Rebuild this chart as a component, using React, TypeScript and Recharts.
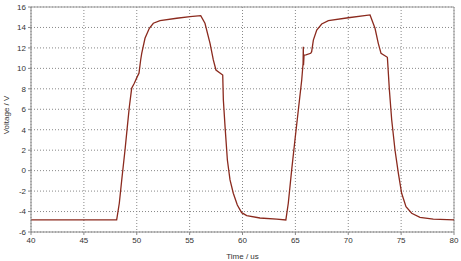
import React from 'react';
import { LineChart, Line, XAxis, YAxis, CartesianGrid, ReferenceLine, Label } from 'recharts';

const times = [40, 48.1, 48.35, 48.58, 48.89, 49.11, 49.3, 49.52, 49.77, 50.05, 50.21, 50.37, 50.47, 50.78, 51.19, 51.57, 52.2, 53.78, 55.04, 56.05, 56.45, 56.93, 57.24, 57.49, 58.13, 58.19, 58.35, 58.57, 58.82, 59.13, 59.51, 59.92, 60.4, 61.65, 63.23, 64.1, 64.33, 64.65, 64.96, 65.28, 65.6, 65.73, 65.75, 65.77, 65.82, 66.0, 66.45, 66.54, 66.7, 67.02, 67.49, 68.12, 70.0, 72.06, 72.53, 72.84, 73.1, 73.7, 73.89, 74.11, 74.42, 74.74, 75.05, 75.46, 76.0, 76.78, 78.04, 80];
const volts = [-4.82, -4.82, -3.19, -0.91, 2.02, 4.3, 6.25, 8.05, 8.54, 9.19, 9.52, 10.82, 11.47, 12.94, 13.92, 14.41, 14.66, 14.9, 15.05, 15.15, 14.41, 12.45, 10.82, 9.84, 9.35, 6.91, 4.3, 1.04, -0.91, -2.21, -3.36, -4.11, -4.4, -4.63, -4.75, -4.82, -3.19, 0.07, 3.0, 5.93, 8.86, 10.5, 12.12, 10.3, 11.3, 11.31, 11.47, 11.63, 12.77, 13.75, 14.34, 14.66, 14.95, 15.22, 13.92, 12.45, 11.47, 11.08, 7.89, 4.95, 2.02, -0.26, -2.21, -3.52, -4.17, -4.56, -4.75, -4.82];

const xTicks = [40, 45, 50, 55, 60, 65, 70, 75, 80];
const yTicks = [-6, -4, -2, 0, 2, 4, 6, 8, 10, 12, 14, 16];

const data = times.map((t, i) => ({ t, v: volts[i] }));

const font = { fontFamily: 'Liberation Sans, Arial, sans-serif', fontSize: 8, fill: '#333' };

const YLabel = () => (
  <text x={7} y={115} transform="rotate(-90 7 115)" textAnchor="middle" dominantBaseline="middle" style={font}>
    Voltage / V
  </text>
);

export default function App() {
  return (
    <div style={{ position: 'absolute', left: 0, top: 0, background: '#fff' }}>
      <LineChart width={461} height={261} data={data} margin={{ top: 7, right: 7, left: 0, bottom: 0 }}>
        <CartesianGrid stroke="#888" strokeDasharray="1 2" />
        <XAxis
          dataKey="t"
          type="number"
          domain={[40, 80]}
          ticks={xTicks}
          height={29}
          stroke="#888"
          tickSize={3}
          tick={font}
          interval={0}
        >
          <Label value="Time / us" position="insideBottom" offset={2} style={font} />
        </XAxis>
        <YAxis
          type="number"
          domain={[-6, 16]}
          ticks={yTicks}
          width={31}
          stroke="#888"
          tickSize={3}
          tick={font}
          interval={0}
        >
          <Label content={<YLabel />} />
        </YAxis>
        <ReferenceLine y={16} stroke="#999" />
        <ReferenceLine x={80} stroke="#999" />
        <Line type="linear" dataKey="v" stroke="#8b2a1e" strokeWidth={1.3} dot={false} isAnimationActive={false} />
      </LineChart>
    </div>
  );
}
